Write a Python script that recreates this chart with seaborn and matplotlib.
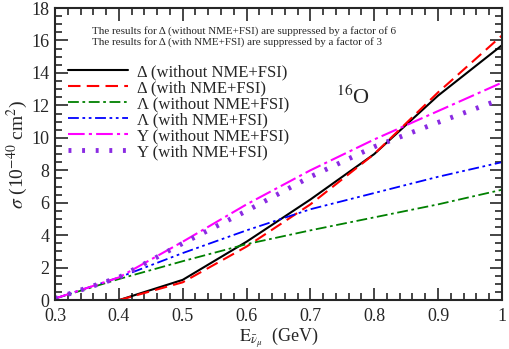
import matplotlib
matplotlib.use('Agg')
import matplotlib.pyplot as plt
import numpy as np
import pandas as pd
import seaborn as sns
from matplotlib.ticker import MultipleLocator

# energies (GeV) and cross sections (1e-40 cm^2)
energy = [0.3, 0.4, 0.5, 0.6, 0.7, 0.8, 0.9, 1.0]
delta_free = [np.nan, 0.0, 1.25, 3.6, 6.2, 9.0, 12.6, 15.7]
delta_nme = [np.nan, 0.0, 1.1, 3.3, 5.9, 9.0, 12.8, 16.3]
lambda_free = [0.1, 1.3, 2.4, 3.45, 4.3, 5.1, 5.9, 6.8]
lambda_nme = [0.1, 1.4, 2.9, 4.3, 5.6, 6.6, 7.6, 8.5]
sigma_free = [0.1, 1.4, 3.6, 5.9, 8.0, 9.9, 11.65, 13.4]
sigma_nme = [0.1, 1.4, 3.5, 5.5, 7.6, 9.45, 10.95, 12.4]

labels = ['Δ (without NME+FSI)', 'Δ (with NME+FSI)', 'Λ (without NME+FSI)',
          'Λ (with NME+FSI)', 'Y (without NME+FSI)', 'Y (with NME+FSI)']
series = [delta_free, delta_nme, lambda_free, lambda_nme, sigma_free, sigma_nme]
colors = ['black', 'red', 'green', 'blue', 'magenta', '#8a2be2']
styles = ['-', (0, (6, 3)), (0, (6, 2, 1.5, 2)), (0, (6, 2, 1.5, 2, 1.5, 2)),
          (0, (8, 2, 1.5, 2)), (0, (0.6, 2.2))]
widths = [1.5, 1.5, 1.3, 1.3, 1.5, 3.5]

df = pd.DataFrame({'E': energy})
for lab, vals in zip(labels, series):
    df[lab] = vals

sns.set_style('ticks')
plt.rcParams['font.family'] = ['Liberation Serif', 'DejaVu Serif']
plt.rcParams['mathtext.fontset'] = 'stix'

fig = plt.figure(figsize=(5.1, 3.49), dpi=100)
ax = fig.add_axes([0.108, 0.14, 0.876, 0.837])

for lab, c, ls, lw in zip(labels, colors, styles, widths):
    sns.lineplot(data=df, x='E', y=lab, ax=ax, color=c, linestyle=ls,
                 linewidth=lw, label=lab)

ax.set_xlim(0.3, 1.0)
ax.set_ylim(0, 18)
ax.xaxis.set_minor_locator(MultipleLocator(0.02))
ax.yaxis.set_major_locator(MultipleLocator(2))
ax.yaxis.set_minor_locator(MultipleLocator(0.5))
ax.set_xticks(np.arange(0.3, 1.01, 0.1))
ax.set_xticklabels(['0.3', '0.4', '0.5', '0.6', '0.7', '0.8', '0.9', '1'])
ax.tick_params(which='both', direction='in', top=True, right=True,
               labelsize=13, width=1.2)
ax.tick_params(which='major', length=9)
ax.tick_params(which='minor', length=5)
ax.tick_params(axis='x', pad=6)
ax.tick_params(axis='y', pad=4)
for sp in ax.spines.values():
    sp.set_linewidth(1.5)

ax.set_xlabel(r'$\mathrm{E}_{\bar{\nu}_{\mu}}$  (GeV)', fontsize=13, labelpad=0.5)
ax.set_ylabel(r'$\sigma$ (10$^{-40}$ cm$^{2}$)', fontsize=14, labelpad=1)

ax.text(0.3575, 16.6, 'The results for Δ (without NME+FSI) are suppressed by a factor of 6',
        fontsize=7.9, va='center')
ax.text(0.3575, 15.9, 'The results for Δ (with NME+FSI) are suppressed by a factor of 3',
        fontsize=7.9, va='center')
ax.text(0.74, 12.1, r'$^{16}$O', fontsize=16)

ax.legend(loc='upper left', bbox_to_anchor=(0.03, 0.808), frameon=False,
          fontsize=12, handlelength=3.6, handletextpad=0.5,
          labelspacing=0.0, borderaxespad=0.0, borderpad=0.0)

fig.savefig('out.png', dpi=100)
